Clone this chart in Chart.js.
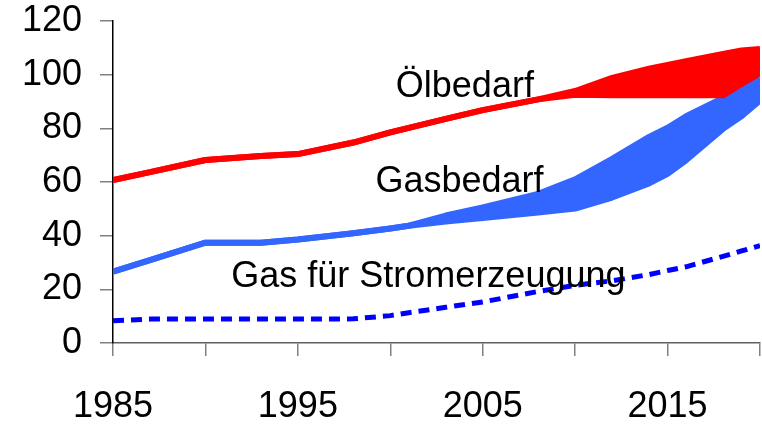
<!DOCTYPE html>
<html>
<head>
<meta charset="utf-8">
<script src="https://cdn.jsdelivr.net/npm/chart.js@4.4.1/dist/chart.umd.min.js"></script>
<style>
  html, body { margin: 0; padding: 0; background: #fff; }
  canvas { display: block; }
</style>
</head>
<body>
<canvas id="chart" width="762" height="426"></canvas>
<script>
// values
const years    = [1985, 1987, 1990, 1993, 1995, 1998, 2000, 2001, 2003, 2005, 2008, 2010, 2012, 2014, 2015, 2016, 2018, 2019, 2020];
const oilHigh  = [60.7, 63.7, 68.2, 69.7, 70.4, 74.7, 78.5, 80.2, 83.5, 86.8, 90.8, 93.9, 98.8, 102.2, 103.6, 105.0, 107.7, 109.0, 109.6];
const oilLow   = [60.7, 63.7, 68.2, 69.7, 70.4, 74.7, 78.5, 80.2, 83.5, 86.8, 90.8, 92.5, 92.3, 92.3, 92.3, 92.3, 92.3, 96.5, 100.5];
const gasHigh  = [26.6, 30.9, 37.4, 37.4, 38.6, 40.9, 42.7, 43.7, 47.5, 50.5, 55.6, 61.0, 68.6, 76.8, 80.2, 84.5, 91.3, 95.0, 98.8];
const gasLow   = [26.6, 30.9, 37.4, 37.4, 38.6, 40.9, 42.7, 43.7, 45.3, 46.6, 48.6, 50.1, 54.2, 59.5, 63.0, 68.1, 79.8, 84.5, 90.4];
const gasPower = [8.3, 8.9, 8.9, 8.9, 8.9, 9.0, 10.2, 11.3, 13.3, 15.3, 19.2, 21.5, 23.2, 25.5, 27.0, 28.4, 32.3, 34.3, 36.3];

const xTickLabels = [1985, 1995, 2005, 2015];
const seriesNames = ['Ölbedarf', 'Gasbedarf', 'Gas für Stromerzeugung'];

const FONT = '"Liberation Sans", Arial, sans-serif';
const RED = '#FF0000';
const BLUE = '#3366FF';
const DARKBLUE = '#0000FF';

const toPoints = (vals) => years.map((yr, i) => ({ x: yr, y: vals[i] }));

// text labels placed next to the curves
const seriesLabels = {
  id: 'seriesLabels',
  afterDatasetsDraw(chart) {
    const { ctx, scales: { x, y } } = chart;
    ctx.save();
    ctx.font = '36px ' + FONT;
    ctx.fillStyle = '#000';
    ctx.textAlign = 'left';
    ctx.textBaseline = 'alphabetic';
    ctx.fillText(seriesNames[0], x.getPixelForValue(2000.3), y.getPixelForValue(91.8));
    ctx.fillText(seriesNames[1], x.getPixelForValue(1999.2), y.getPixelForValue(56.4));
    ctx.fillText(seriesNames[2], x.getPixelForValue(1991.4), y.getPixelForValue(21.0));
    ctx.restore();
  }
};

const lineBase = {
  pointRadius: 0,
  pointHoverRadius: 0,
  tension: 0,
  borderWidth: 6,
  borderJoinStyle: 'round'
};

// chart.js adds tick padding to the edge paddings; drop that
const noEdgePad = (scale) => {
  scale.paddingTop = 0;
  scale.paddingBottom = 0;
  scale.paddingLeft = 0;
  scale.paddingRight = 0;
};

new Chart(document.getElementById('chart'), {
  type: 'line',
  data: {
    datasets: [
      { ...lineBase, label: seriesNames[0], data: toPoints(oilHigh), borderColor: RED, backgroundColor: RED, fill: '+1' },
      { ...lineBase, label: seriesNames[0] + ' min', data: toPoints(oilLow), borderColor: RED, backgroundColor: RED, fill: false },
      { ...lineBase, label: seriesNames[1], data: toPoints(gasHigh), borderColor: BLUE, backgroundColor: BLUE, fill: '+1' },
      { ...lineBase, label: seriesNames[1] + ' min', data: toPoints(gasLow), borderColor: BLUE, backgroundColor: BLUE, fill: false },
      { ...lineBase, label: seriesNames[2], data: toPoints(gasPower), borderColor: DARKBLUE, borderWidth: 5,
        borderDash: [11, 7], borderCapStyle: 'butt', borderJoinStyle: 'miter', fill: false },
      { ...lineBase, label: 'rand', data: [{ x: years[0], y: gasHigh[0] }, { x: years[0], y: oilHigh[0] }],
        borderColor: '#5577EE', borderWidth: 1.5, fill: false }
    ]
  },
  options: {
    responsive: false,
    animation: false,
    events: [],
    layout: { padding: { top: 21, right: 2, bottom: 0, left: 0 } },
    plugins: {
      legend: { display: false },
      tooltip: { enabled: false }
    },
    scales: {
      x: {
        type: 'linear',
        min: 1985,
        max: 2020,
        afterFit: (scale) => { scale.height = 83; noEdgePad(scale); },
        ticks: {
          stepSize: 5,
          autoSkip: false,
          maxRotation: 0,
          padding: 29,
          color: '#000',
          font: { family: FONT, size: 36 },
          callback: (v) => (xTickLabels.includes(v) ? String(v) : '')
        },
        grid: { drawOnChartArea: false, drawTicks: true, tickLength: 13, color: '#808080', lineWidth: 1.5 },
        border: { display: true, color: '#606060', width: 1.5 }
      },
      y: {
        min: 0,
        max: 120,
        afterFit: (scale) => { scale.width = 113; noEdgePad(scale); },
        ticks: {
          stepSize: 20,
          padding: 18,
          color: '#000',
          font: { family: FONT, size: 36 }
        },
        grid: { drawOnChartArea: false, drawTicks: true, tickLength: 13, color: '#808080', lineWidth: 1.5 },
        border: { display: true, color: '#000', width: 1.5 }
      }
    }
  },
  plugins: [seriesLabels]
});
</script>
</body>
</html>
